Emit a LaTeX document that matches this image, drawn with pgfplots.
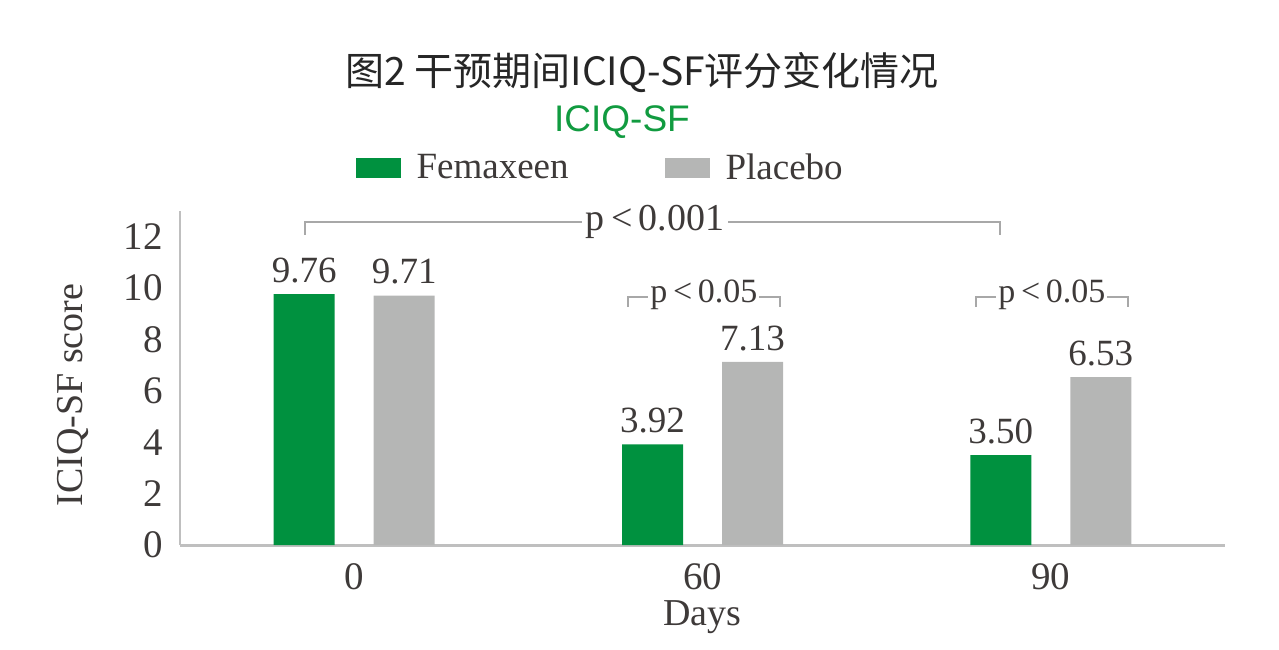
\documentclass[border=0pt]{standalone}
\usepackage{pgfplots}
\pgfplotsset{compat=1.18}
\usepackage{fontspec}
\setmainfont{Liberation Serif}
\newfontfamily\sansf{Liberation Sans}
\newfontfamily\cjk{Noto Sans CJK SC}
\definecolor{femgreen}{HTML}{00913F}
\definecolor{plgray}{HTML}{B5B6B5}
\definecolor{txt}{HTML}{3E3A39}
\definecolor{axgray}{HTML}{BFBFBF}
\definecolor{brk}{HTML}{A8A8A8}
\definecolor{subgreen}{HTML}{119B40}
\begin{document}
\begin{tikzpicture}
% canvas: 1 px of the reference = 0.5pt
\useasboundingbox (0,0) rectangle (639.5pt,324.5pt);
\node[font=\cjk\fontsize{19.5}{22}\selectfont, text=black!85] at (321pt,288pt) {图2 干预期间ICIQ-SF评分变化情况};
\node[font=\sansf\fontsize{18.5}{22}\selectfont, text=subgreen] at (311pt,263.5pt) {ICIQ-SF};
\begin{axis}[
    at={(90pt,52pt)}, anchor=south west,
    scale only axis,
    width=522.5pt, height=167pt,
    xmin=-0.5, xmax=2.5,
    ymin=0, ymax=13,
    xtick={0,1,2},
    xticklabels={0,60,90},
    ytick={0,2,...,12},
    major tick length=0pt,
    axis x line*=bottom,
    axis y line*=left,
    x axis line style={draw=axgray, line width=1.5pt, -},
    y axis line style={draw=axgray, line width=0.8pt, -},
    ticklabel style={font=\fontsize{19.5}{21}\selectfont, text=txt},
    /pgf/number format/assume math mode=true,
    xticklabel style={yshift=-5.5pt},
    yticklabel style={xshift=-5pt},
    xlabel={Days},
    ylabel={ICIQ-SF score},
    label style={font=\fontsize{19}{21}\selectfont, text=txt},
    xlabel style={yshift=1.5pt},
    ylabel style={yshift=11pt, xshift=-8.5pt},
    ybar, bar width=30.5pt,
    nodes near coords,
    nodes near coords style={font=\fontsize{18.5}{20}\selectfont, text=txt, anchor=south, yshift=2pt,
      /pgf/number format/.cd, fixed, fixed zerofill, precision=2},
    legend columns=2,
    legend style={at={(0.403,1.129)}, anchor=center, draw=none, fill=none,
      font=\fontsize{18.5}{20}\selectfont, text=txt,
      /tikz/every odd column/.append style={column sep=6pt},
      /tikz/every even column/.append style={column sep=46pt}},
    legend image code/.code={\fill[#1] (0pt,-5pt) rectangle (22.5pt,5pt);},
    clip=false,
]
\addplot[fill=femgreen, draw=none, bar shift=-25pt] coordinates {(0,9.76) (1,3.92) (2,3.50)};
\addlegendentry{Femaxeen}
\addplot[fill=plgray, draw=none, bar shift=25pt] coordinates {(0,9.71) (1,7.13) (2,6.53)};
\addlegendentry{Placebo}

% significance brackets
\draw[brk, line width=0.8pt] (axis cs:-0.141,12.07) -- (axis cs:-0.141,12.57) -- (axis cs:1.854,12.57) -- (axis cs:1.854,12.07);
\node[fill=white, inner sep=2pt, text=txt, font=\fontsize{19}{21}\selectfont] at (axis cs:0.864,12.57) {p\,<\,0.001};
\draw[brk, line width=0.8pt] (axis cs:0.786,9.26) -- (axis cs:0.786,9.65) -- (axis cs:1.223,9.65) -- (axis cs:1.223,9.26);
\node[fill=white, inner sep=1pt, text=txt, font=\fontsize{17}{19}\selectfont] at (axis cs:1.004,9.72) {p\,<\,0.05};
\draw[brk, line width=0.8pt] (axis cs:1.785,9.26) -- (axis cs:1.785,9.65) -- (axis cs:2.222,9.65) -- (axis cs:2.222,9.26);
\node[fill=white, inner sep=1pt, text=txt, font=\fontsize{17}{19}\selectfont] at (axis cs:2.003,9.72) {p\,<\,0.05};
\end{axis}
\end{tikzpicture}
\end{document}
